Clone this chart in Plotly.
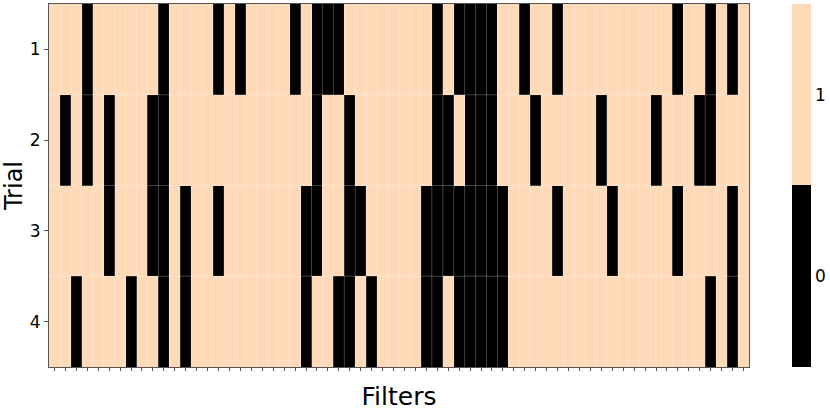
import plotly.graph_objects as go

# filter activity per trial: 0 = off (black), 1 = on (peach)
n_filters = 64
trials = [1, 2, 3, 4]
off_trial1 = [3, 10, 15, 17, 22, 24, 25, 26, 35, 37, 38, 39, 40, 43, 46, 57, 60, 62]
off_trial2 = [1, 3, 5, 9, 10, 24, 27, 35, 36, 38, 39, 40, 44, 50, 55, 59, 60]
off_trial3 = [5, 9, 10, 12, 15, 23, 24, 27, 28, 34, 35, 36, 37, 38, 39, 40, 41, 46, 51, 57, 62]
off_trial4 = [2, 7, 10, 12, 23, 26, 27, 29, 34, 35, 37, 38, 39, 40, 41, 60, 62]

z = []
for off in [off_trial1, off_trial2, off_trial3, off_trial4]:
    z.append([0 if i in off else 1 for i in range(n_filters)])

PEACH = "#FFDAB9"
FONT = "DejaVu Sans"

fig = go.Figure(go.Heatmap(
    z=z,
    x=list(range(n_filters)),
    y=trials,
    zmin=-0.5, zmax=1.5,
    colorscale=[[0, "black"], [0.5, "black"], [0.5, PEACH], [1, PEACH]],
    colorbar=dict(
        tickvals=[0, 1], ticktext=["0", "1"],
        thickness=19, len=1, lenmode="fraction",
        x=1.061, xanchor="left", y=0.5, yanchor="middle",
        xpad=0, ypad=0,
        outlinewidth=0, ticks="", ticklen=0,
        tickfont=dict(family=FONT, size=17, color="black"),
    ),
    hovertemplate="Filter %{x}<br>Trial %{y}<br>%{z}<extra></extra>",
))

# faint cell borders
for i in range(1, n_filters):
    fig.add_shape(type="line", x0=i - 0.5, x1=i - 0.5, y0=0.5, y1=len(trials) + 0.5,
                  line=dict(color="rgba(255,255,255,0.25)", width=1), layer="above")
for j in range(1, len(trials)):
    fig.add_shape(type="line", x0=-0.5, x1=n_filters - 0.5, y0=j + 0.5, y1=j + 0.5,
                  line=dict(color="rgba(255,255,255,0.25)", width=1), layer="above")

fig.update_xaxes(
    range=[-0.5, n_filters - 0.5],
    tickvals=list(range(n_filters)), showticklabels=False,
    ticks="outside", ticklen=3, tickwidth=1, tickcolor="#555",
    showline=True, linecolor="#555", linewidth=1, mirror=True,
    showgrid=False, zeroline=False,
    title=dict(text="Filters", font=dict(family=FONT, size=25, color="black"), standoff=17),
)
fig.update_yaxes(
    range=[len(trials) + 0.5, 0.5],
    tickvals=trials,
    ticks="outside", ticklen=4, tickwidth=1, tickcolor="#555",
    tickfont=dict(family=FONT, size=17, color="black"),
    showline=True, linecolor="#555", linewidth=1, mirror=True,
    showgrid=False, zeroline=False,
    title=dict(text="Trial", font=dict(family=FONT, size=24, color="black"), standoff=8),
)
fig.update_layout(
    width=830, height=415,
    margin=dict(l=49, r=81, t=4, b=48, autoexpand=False),
    plot_bgcolor="white", paper_bgcolor="white",
    font=dict(family=FONT),
)

# drop the default page margin so the figure sits at the window's corner
fig.write_html("out.html", config={"displayModeBar": False},
               post_script="document.body.style.margin='0';")
